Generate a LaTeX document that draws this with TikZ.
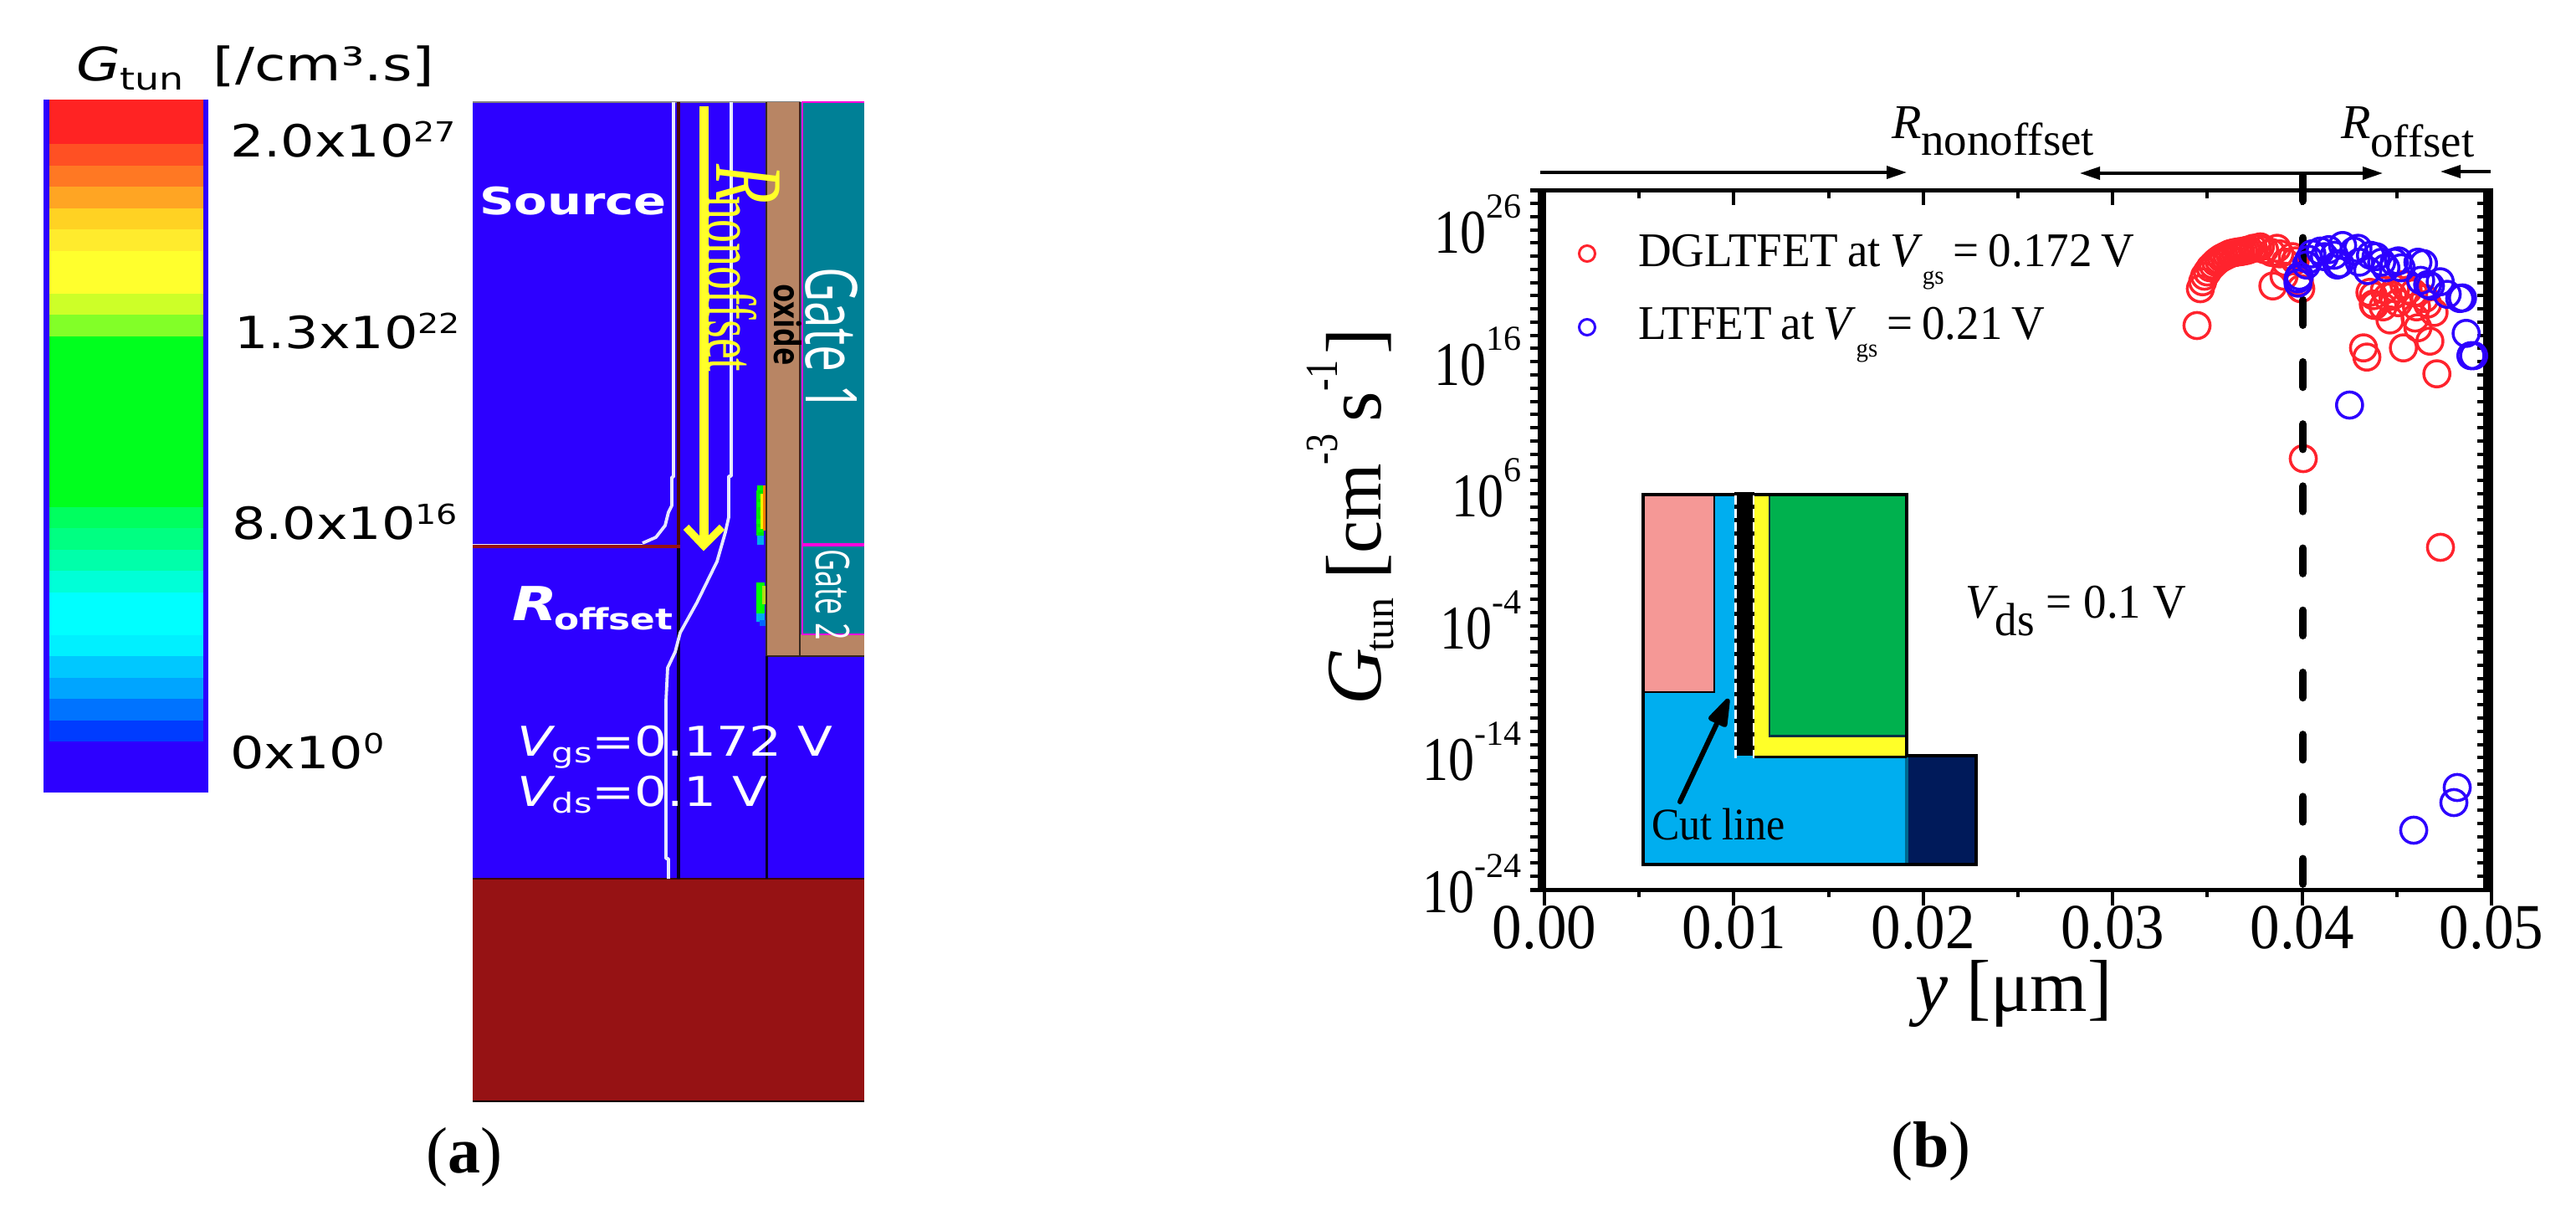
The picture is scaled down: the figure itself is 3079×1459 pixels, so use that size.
\documentclass[tikz,border=0pt]{standalone}
\usepackage{graphicx}
\usepackage{fontspec}
\usetikzlibrary{arrows.meta}
\setmainfont{Liberation Serif}
\newfontfamily\djv{DejaVu Sans}
\newfontfamily\opn{Open Sans}
\newcommand{\fsz}[1]{\fontsize{#1}{#1}\selectfont}
\definecolor{tblue}{RGB}{45,0,255}
\definecolor{tred}{RGB}{255,35,45}
\definecolor{dred}{RGB}{150,18,20}
\definecolor{oxid}{RGB}{184,133,100}
\definecolor{gteal}{RGB}{0,128,150}
\definecolor{mag}{RGB}{255,0,220}
\definecolor{ipink}{RGB}{245,152,150}
\definecolor{iblue}{RGB}{0,174,239}
\definecolor{igreen}{RGB}{0,177,78}
\definecolor{iyel}{RGB}{255,255,40}
\definecolor{inavy}{RGB}{0,26,90}
\definecolor{pale}{RGB}{232,232,255}
\tikzset{
  lbl/.style={inner sep=0pt,outer sep=0pt,anchor=base west},
  lblc/.style={inner sep=0pt,outer sep=0pt,anchor=base},
  rotd/.style={inner sep=0pt,outer sep=0pt,anchor=base west,rotate=-90},
  rotu/.style={inner sep=0pt,outer sep=0pt,anchor=base west,rotate=90},
  curve/.style={draw=pale,line width=3.8pt,line join=round},
  redpt/.style={draw=tred,line width=3.5pt,fill=none},
  bluept/.style={draw=tblue,line width=3.5pt,fill=none},
  rangearrow/.style={draw=black,line width=3.5pt},
  tickm/.style={draw=black,line width=4pt},
  inseto/.style={draw=black,line width=3.6pt,line join=miter},
}
\begin{document}
\begin{tikzpicture}[x=1pt,y=-1pt]
\useasboundingbox (0,0) rectangle (3079,1459);
%% ---- colour bar
\fill[tblue] (52,119) rectangle (249,947);
\foreach \a/\b/\r/\g/\bb in {
 119/147/255/35/35,147/172/255/35/35,172/198/255/80/35,198/223/255/120/35,
 223/249/255/165/35,249/274/255/210/35,274/300/255/235/45,300/325/255/255/45,
 325/351/255/255/45,351/376/205/255/40,376/402/130/255/40,402/606/0/255/30,
 606/631/0/255/95,631/657/0/255/130,657/682/0/255/170,682/708/0/255/215,
 708/759/0/255/255,759/784/0/240/255,784/810/0/200/255,810/835/0/165/255,
 835/861/0/115/255,861/886/0/60/255}{
  \definecolor{bandc}{RGB}{\r,\g,\bb}
  \fill[bandc] (59,\a) rectangle (243,\b);
}
\node[lbl] (cbtitle) at (91,96) {\djv\fsz{55}\scalebox{1.24}[1]{\itshape G\upshape\raisebox{-11pt}{\fsz{37}tun}\kern28pt[/cm³.s]}};
\node[lbl] (cb1) at (275,187) {\djv\fsz{53}\scalebox{1.2}[1]{2.0x10\raisebox{18pt}{\fsz{33}27}}};
\node[lbl] (cb2) at (280,416) {\djv\fsz{53}\scalebox{1.2}[1]{1.3x10\raisebox{18pt}{\fsz{33}22}}};
\node[lbl] (cb3) at (277,644) {\djv\fsz{53}\scalebox{1.2}[1]{8.0x10\raisebox{18pt}{\fsz{33}16}}};
\node[lbl] (cb4) at (275,918) {\djv\fsz{53}\scalebox{1.2}[1]{0x10\raisebox{18pt}{\fsz{33}0}}};
%% ---- device panel
\fill[tblue] (565,122) rectangle (1033,1050);
\fill[dred] (565,1050) rectangle (1033,1316);
\draw[black,line width=2pt] (565,1316) -- (1033,1316);
\draw[black!60!dred,line width=2pt] (565,1050) -- (1033,1050);
\draw[gray,line width=2pt] (565,122) -- (957,122);
% oxide and gates
\fill[oxid] (916,122) rectangle (1033,784);
\fill[gteal] (957,122) rectangle (1033,651);
\fill[gteal] (957,651) rectangle (1033,758);
\draw[black!70!oxid,line width=2.5pt] (916,122) -- (916,784) -- (1033,784);
\draw[black!70!oxid,line width=2.5pt] (956,122) -- (956,784);
\draw[mag,line width=2.4pt] (1033,122) -- (959,122) -- (959,758) -- (1033,758);
\draw[mag,line width=4pt] (959,651) -- (1033,651);
% internal boundaries
\draw[black!85!tblue,line width=3pt] (916,784) -- (916,1050);
\draw[black!85!tblue,line width=3.4pt] (811,653) -- (811,1050);
\draw[black!50!dred,line width=4.5pt] (811,122) -- (811,655);
\draw[dred,line width=3.4pt] (565,653) -- (813,653);
\draw[pale,line width=1.6pt] (565,650.5) -- (768,650.5);
% tunnelling spots
\fill[green!90!black] (904,586) rectangle (913,640);
\foreach \yy/\w in {580/2,590/4,600/2,610/5,620/1,630/3,640/2}{\fill[green] (903+\w,\yy) rectangle (912,\yy+6);}
\fill[yellow] (909,590) rectangle (913,632);
\fill[orange] (912,580) rectangle (915,634);
\fill[cyan] (905,640) rectangle (913,651);
\fill[green] (904,696) rectangle (914,735);
\fill[yellow!70!green] (911,700) rectangle (915,722);
\fill[cyan] (904,733) rectangle (914,743);
\fill[blue!60!cyan] (908,741) rectangle (915,748);
% contours
\draw[curve] (805,122) -- (805,570) -- (803,570) -- (803,604) -- (799,612) -- (795,628) -- (784,642) -- (768,649);
\draw[curve] (874,122) -- (874,569) -- (871,569) -- (871,618) -- (867,636) -- (857,671) -- (833,720) -- (813,756) -- (807,779) -- (798,798) -- (796,838) -- (796,1026) -- (799,1026) -- (799,1050);
% yellow arrow
\coordinate (yat) at (841,127);
\coordinate (yab) at (841,652);
\coordinate (yal) at (820,630);
\coordinate (yar) at (863,630);
\draw[iyel,line width=11pt] (yat) -- (yab);
\draw[iyel,line width=9pt,line join=miter] (yal) -- (841,652) -- (yar);
\node[rotd] (rnon) at (856,196) {\scalebox{1}[1.5]{\fsz{77}\color{iyel}\itshape R\upshape\kern-9pt\raisebox{-7pt}{\fsz{56}nonoffset}}};
\node[rotd] (oxlab) at (925,339) {\scalebox{1}[1.2]{\opn\bfseries\fsz{36}oxide}};
\node[rotd] (g1lab) at (963,319) {\scalebox{1}[1.5]{\opn\fsz{57}\color{white}Gate 1}};
\node[rotd] (g2lab) at (975,656) {\scalebox{1}[1.55]{\opn\fsz{36}\color{white}Gate 2}};
\node[lbl] (srclab) at (573,256) {\djv\bfseries\fsz{45}\color{white}\scalebox{1.28}[1]{Source}};
\node[lbl] (roflab) at (612,741) {\djv\bfseries\fsz{56}\color{white}\scalebox{1.25}[1]{\itshape R\upshape\kern-3pt\raisebox{-11pt}{\fsz{35}offset}}};
\node[lbl] (vgsa) at (618,903) {\djv\fsz{49}\color{white}\scalebox{1.25}[1]{\itshape V\upshape\raisebox{-8pt}{\fsz{33}gs}=0.172 V}};
\node[lbl] (vdsa) at (618,963) {\djv\fsz{49}\color{white}\scalebox{1.25}[1]{\itshape V\upshape\raisebox{-8pt}{\fsz{33}ds}=0.1 V}};
\node[lblc] (capa) at (555,1401) {\fsz{78}(\textbf{a})};
%% ---- plot (b): frame
\foreach \i in {0,...,10}{
  \pgfmathsetmacro{\xx}{1846+113.2*\i}
  \pgfmathparse{int(mod(\i,2))}
  \ifnum\pgfmathresult=0
    \draw[tickm] (\xx,1063) -- (\xx,1082);
    \draw[tickm] (\xx,227) -- (\xx,245);
  \else
    \draw[tickm] (\xx,1063) -- (\xx,1072);
    \draw[tickm] (\xx,227) -- (\xx,237);
  \fi
}
\foreach \e in {-24,...,28}{
  \pgfmathsetmacro{\yy}{1063-15.77*(\e+24)}
  \draw[tickm] (1829,\yy) -- (1843,\yy);
  \draw[tickm] (2961,\yy) -- (2972,\yy);
}
\fill[black] (1838,227) rectangle (1848,1063);
\fill[black] (2968,225) rectangle (2980,1065);
\draw[black,line width=5pt] (1829,227) -- (2980,227);
\draw[black,line width=5pt] (1829,1063) -- (2980,1063);
% axis numbers
\foreach \v/\xx in {0.00/1846,0.01/2072.4,0.02/2298.8,0.03/2525.2,0.04/2751.6,0.05/2978}{
  \node[lblc] at (\xx,1133) {\scalebox{1}[1.08]{\fsz{71}\v}};
}
\foreach \s/\yy in {26/302,16/460,6/617,-4/775,-14/932,-24/1090}{
  \node[inner sep=0pt,outer sep=0pt,anchor=base east] at (1818,\yy) {\scalebox{1}[1.2]{\fsz{62}10}\raisebox{42pt}{\fsz{42}\s}};
}
\node[rotu] (ylab) at (1650,842) {\fsz{94}\itshape G\upshape\kern-4pt\raisebox{-15pt}{\fsz{50}tun}\kern22pt[\kern-1pt{\fsz{88}cm}\kern-1pt\raisebox{52pt}{\scalebox{0.8}[1]{\fsz{55}-3}}\kern14pt s\kern1pt\raisebox{52pt}{\scalebox{0.8}[1]{\fsz{55}-1}}\kern7pt]};
\node[lbl] (xlab) at (2289,1208) {\fsz{88}\textit{y} [μm]};
\node[lblc] (capb) at (2308,1394) {\fsz{78}(\textbf{b})};
% range arrows
\coordinate (r1a) at (1841,206);
\coordinate (r1b) at (2279,206);
\coordinate (r2a) at (2486,207);
\coordinate (r2b) at (2848,207);
\coordinate (r3a) at (2977,205);
\coordinate (r3b) at (2917,205);
\draw[rangearrow,-{Triangle[length=24pt,width=15pt]}] (r1a) -- (r1b);
\draw[rangearrow,{Triangle[length=24pt,width=15pt]}-{Triangle[length=24pt,width=15pt]}] (r2a) -- (r2b);
\draw[rangearrow,-{Triangle[length=24pt,width=15pt]}] (r3a) -- (r3b);
\node[lbl] (rnonb) at (2261,165) {\fsz{58}\itshape R\upshape\raisebox{-20pt}{\fsz{55}nonoffset}};
\node[lbl] (rofb) at (2798,165) {\fsz{58}\itshape R\upshape\raisebox{-22pt}{\fsz{55}offset}};
% legend
\node[draw=tred,line width=3pt,circle,inner sep=0pt,minimum size=19pt] (m1) at (1897,303) {};
\node[draw=tblue,line width=3pt,circle,inner sep=0pt,minimum size=19pt] (m2) at (1897,391) {};
\node[lbl] (l1) at (1958,318) {\scalebox{1}[1.05]{\fsz{55}\spaceskip=11pt DGLTFET at \textit{V}\raisebox{-20pt}{\fsz{29}gs} = 0.172 V}};
\node[lbl] (l2) at (1958,405) {\scalebox{1}[1.05]{\fsz{55}\spaceskip=11pt LTFET at \textit{V}\raisebox{-20pt}{\fsz{29}gs} = 0.21 V}};
\node[lbl] (vdsb) at (2349,738) {\scalebox{1}[1.05]{\fsz{55}\textit{V}\kern-3pt\raisebox{-20pt}{\fsz{53}ds} = 0.1 V}};
%% ---- inset
\fill[iblue] (1964,591) -- (2279,591) -- (2279,903) -- (2362,903) -- (2362,1033) -- (1964,1033) -- cycle;
\fill[ipink] (1964,591) rectangle (2049,827);
\draw[black,line width=2.6pt] (1964,827) -- (2049,827) -- (2049,591);
\fill[inavy] (2279,903) rectangle (2362,1033);
\fill[iblue!60!black] (2277,905) rectangle (2281,1033);
\fill[iyel] (2097,591) -- (2114,591) -- (2114,881) -- (2279,881) -- (2279,903) -- (2097,903) -- cycle;
\fill[igreen] (2116,591) rectangle (2279,878);
\draw[black!30!iblue!40!black,line width=2.4pt] (2115,591) -- (2115,879.5) -- (2279,879.5);
\draw[inseto] (1964,591) -- (2279,591) -- (2279,903) -- (2362,903) -- (2362,1033) -- (1964,1033) -- cycle;
\draw[black,line width=3pt] (2097,904) -- (2279,904);
\fill[black] (2073,588) rectangle (2097,903);
\draw[white,line width=2.6pt,dash pattern=on 11pt off 5pt] (2074.5,592) -- (2074.5,906);
\draw[white,line width=2.6pt,dash pattern=on 11pt off 5pt] (2096,592) -- (2096,906);
\coordinate (cuta) at (2008,958);
\coordinate (cutb) at (2066,835);
\draw[black,line width=6pt,line cap=round,-{Triangle[length=40pt,width=25pt,round]}] (cuta) -- (cutb);
\node[lbl] (cutlab) at (1974,1003) {\scalebox{1}[1.08]{\fsz{50}Cut line}};
%% ---- data
\foreach \a/\b in {78/357,90/225,98/200,105/180,115/165,125/150,135/140,145/130,155/122,165/115,175/110,185/105,195/100,205/97,215/95,225/93,235/92,245/90,255/88,265/85,280/80,295/78,305/75,320/85,345/95,365/80,375/100,350/215,390/180,395/130,420/110,430/125,450/225,445/200,698/238,710/280,715/285,760/255,800/275,770/337,835/230,855/240,905/280,870/365,913/413,818/437,675/437,687/470,938/530,928/310,895/260,865/290,750/230,790/225,820/210,860/330,780/250,745/290,710/250}{
  \pgfmathsetmacro{\xx}{2600+\a/3}
  \pgfmathsetmacro{\yy}{270+\b/3}
  \draw[redpt] (\xx,\yy) circle [radius=15.6pt];
}
\foreach \xx/\yy in {2753/548,2917/654}{\draw[redpt] (\xx,\yy) circle [radius=15.6pt];}
%
\draw[black,line width=9.3pt,line cap=round,dash pattern=on 30pt off 44.2pt] (2752.7,210) -- (2752.7,1060);
\foreach \a/\b in {440/190,440/205,445/180,470/140,480/120,490/100,520/90,535/110,550/85,570/105,590/135,600/70,580/140,640/90,655/80,660/130,690/160,700/105,720/110,740/130,755/150,785/130,800/125,810/150,870/130,890/135,880/195,905/210,950/200,915/215,1020/260,1030/258,975/245,1043/385,1060/465,1070/465,625/642}{
  \pgfmathsetmacro{\xx}{2600+\a/3}
  \pgfmathsetmacro{\yy}{270+\b/3}
  \draw[bluept] (\xx,\yy) circle [radius=15.6pt];
}
\foreach \xx/\yy in {2937/941,2933/959,2885/992}{\draw[bluept] (\xx,\yy) circle [radius=15.6pt];}
\end{tikzpicture}
\end{document}
